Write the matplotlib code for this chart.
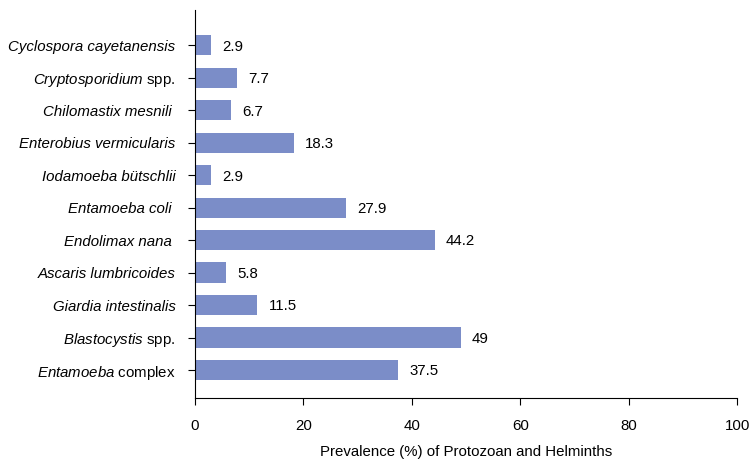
import matplotlib.pyplot as plt

plt.rcParams["font.family"] = ["Liberation Sans", "DejaVu Sans"]
plt.rcParams["mathtext.fontset"] = "custom"
plt.rcParams["mathtext.it"] = "Liberation Sans:italic"
plt.rcParams["mathtext.rm"] = "Liberation Sans"

# bottom to top
labels = [
    ("$\\mathit{Entamoeba}$ complex", False),
    ("$\\mathit{Blastocystis}$ spp.", False),
    ("Giardia intestinalis", True),
    ("Ascaris lumbricoides", True),
    ("Endolimax nana ", True),
    ("Entamoeba coli ", True),
    ("Iodamoeba bütschlii", True),
    ("Enterobius vermicularis", True),
    ("Chilomastix mesnili ", True),
    ("$\\mathit{Cryptosporidium}$ spp.", False),
    ("Cyclospora cayetanensis", True),
]
values = [37.5, 49, 11.5, 5.8, 44.2, 27.9, 2.9, 18.3, 6.7, 7.7, 2.9]
value_text = ["37.5", "49", "11.5", "5.8", "44.2", "27.9", "2.9", "18.3", "6.7", "7.7", "2.9"]

fig = plt.figure(figsize=(7.5, 4.59), dpi=100)
ax = fig.add_axes([0.26, 0.133, 0.723, 0.845])

pos = range(len(values))
ax.barh(pos, values, height=0.62, color="#7b8dc8")

for y, v, t in zip(pos, values, value_text):
    ax.annotate(t, (v, y), xytext=(8, -1), textcoords="offset points",
                va="center", ha="left", fontsize=10.8)

ax.set_yticks(list(pos))
ax.set_yticklabels([l for l, _ in labels], fontsize=10.8)
for tl, (_, it) in zip(ax.get_yticklabels(), labels):
    if it:
        tl.set_fontstyle("italic")

ax.set_xlim(0, 100)
ax.set_xticks([0, 20, 40, 60, 80, 100])
ax.set_ylim(-0.86, 11.08)
ax.tick_params(axis="x", labelsize=10.8, length=5, pad=10)
ax.tick_params(axis="y", length=5, pad=9)
ax.spines["top"].set_visible(False)
ax.spines["right"].set_visible(False)
ax.set_xlabel("Prevalence (%) of Protozoan and Helminths", fontsize=10.8, labelpad=9)

fig.savefig("out.png", dpi=100)
